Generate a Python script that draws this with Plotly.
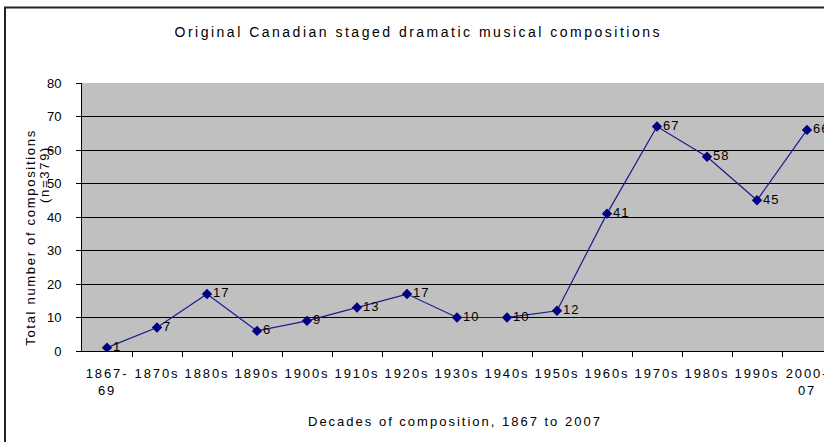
import plotly.graph_objects as go

decades = ["1867-<br>69", "1870s", "1880s", "1890s", "1900s", "1910s", "1920s", "1930s",
           "1940s", "1950s", "1960s", "1970s", "1980s", "1990s", "2000-<br>07"]
counts = [1, 7, 17, 6, 9, 13, 17, 10, 10, 12, 41, 67, 58, 45, 66]
y_ticks = [0, 10, 20, 30, 40, 50, 60, 70, 80]

W, H = 824, 442
L, T, B = 82, 83, 91
plot_w = W - L
plot_h = H - T - B
cat_w = 50.0


def px(x):
    return (x - L) / plot_w


def py(y):
    return (H - B - y) / plot_h


FONT = "Liberation Sans, Arial, sans-serif"

fig = go.Figure()
fig.add_trace(go.Scatter(
    x=list(range(len(decades))), y=counts,
    mode="lines+markers+text",
    line=dict(color="#1a1a90", width=1.2),
    marker=dict(symbol="diamond", size=8, color="#000080"),
    text=[str(c) for c in counts],
    textposition="middle right",
    textfont=dict(family=FONT, size=13, color="#000"),
    cliponaxis=True,
    hoverinfo="skip",
))

x_max = -0.5 + plot_w / cat_w

fig.update_layout(
    width=W, height=H,
    margin=dict(l=L, r=0, t=T, b=B),
    paper_bgcolor="white",
    plot_bgcolor="#C0C0C0",
    showlegend=False,
    font=dict(family=FONT, size=13, color="#000"),
    xaxis=dict(
        range=[-0.5, x_max],
        tickmode="array",
        tickvals=list(range(len(decades))),
        ticktext=decades,
        ticks="",
        showgrid=False,
        showline=True, linecolor="#000", linewidth=1,
        zeroline=False,
        minor=dict(tickmode="array", tickvals=[i + 0.5 for i in range(len(decades))],
                   ticks="outside", ticklen=5, tickcolor="#000", tickwidth=1, showgrid=False),
        ticklabelstandoff=10,
        tickfont=dict(family=FONT, size=13, color="#000"),
    ),
    yaxis=dict(
        range=[0, 80],
        tickmode="array",
        tickvals=y_ticks,
        ticks="outside", ticklen=5, tickcolor="#000",
        showgrid=True, gridcolor="#000", gridwidth=1,
        showline=True, linecolor="#000", linewidth=1,
        zeroline=False,
        ticklabelstandoff=12,
        tickfont=dict(family=FONT, size=13, color="#000"),
    ),
    shapes=[dict(type="rect", xref="paper", yref="paper",
                 x0=px(5), x1=px(W + 40), y0=py(H + 40), y1=py(7.5),
                 line=dict(color="#222", width=2), fillcolor="rgba(0,0,0,0)", layer="above")],
    annotations=[
        dict(text="Original Canadian staged dramatic musical compositions", xref="paper", yref="paper",
             x=px(418), y=py(32), xanchor="center", yanchor="middle", showarrow=False,
             font=dict(family=FONT, size=14, color="#000")),
        dict(text="Decades of composition, 1867 to 2007", xref="paper", yref="paper",
             x=px(455), y=py(421), xanchor="center", yanchor="middle", showarrow=False,
             font=dict(family=FONT, size=13, color="#000")),
        dict(text="Total number of compositions", xref="paper", yref="paper",
             x=px(30), y=py(237), xanchor="center", yanchor="middle", showarrow=False,
             textangle=-90, font=dict(family=FONT, size=13, color="#000")),
        dict(text="(n=379)", xref="paper", yref="paper",
             x=px(44), y=py(175), xanchor="center", yanchor="middle", showarrow=False,
             textangle=-90, font=dict(family=FONT, size=13, color="#000")),
    ],
)

css = ("<style>html,body{margin:0;padding:0;overflow:hidden}"
       ".xtick text{letter-spacing:1.9px}"
       ".annotation-text{letter-spacing:1.7px}"
       ".annotation[data-index=\\\"0\\\"] .annotation-text{letter-spacing:2.5px}"
       ".annotation[data-index=\\\"1\\\"] .annotation-text{letter-spacing:2px}"
       ".textpoint text{letter-spacing:1px}</style>")
fig.write_html("out.html", config={"displayModeBar": False},
               post_script="document.head.insertAdjacentHTML('beforeend', '" + css + "');")
